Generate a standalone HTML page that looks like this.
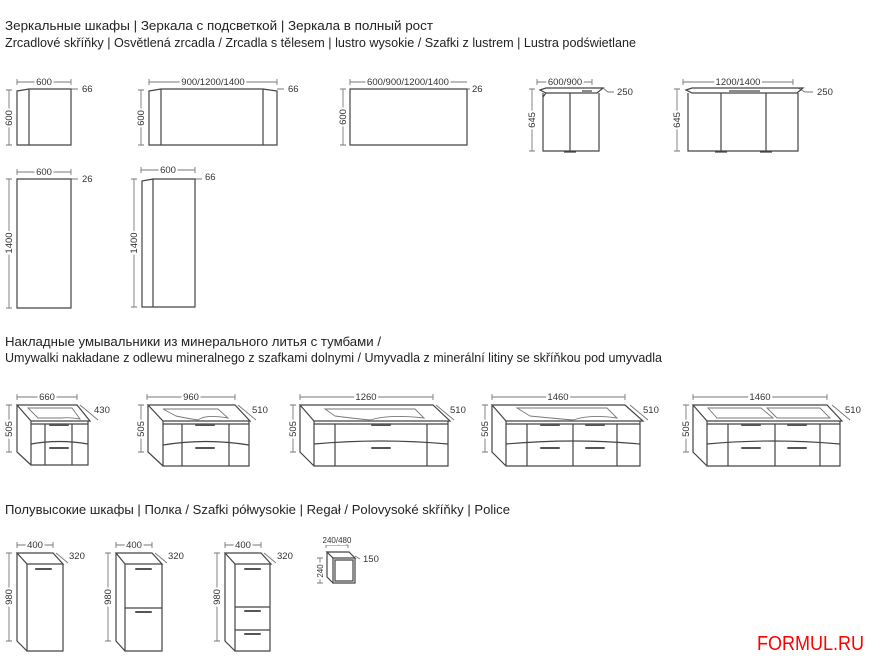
<!DOCTYPE html>
<html><head><meta charset="utf-8"><style>
html,body{margin:0;padding:0;background:#fff;}
svg{display:block;}
.h{font-family:"Liberation Sans","DejaVu Sans",sans-serif;font-size:12.5px;fill:#222;}
.d{font-family:"Liberation Sans",sans-serif;font-size:9.5px;fill:#333;stroke:#fff;stroke-width:4;paint-order:stroke;}
.l{stroke:#444;stroke-width:1.2;fill:none;}
.t{stroke:#777;stroke-width:0.9;fill:none;}
.k{stroke:#555;stroke-width:2;fill:none;stroke-linecap:round;}
</style></head><body>
<svg width="887" height="671" viewBox="0 0 887 671" xmlns="http://www.w3.org/2000/svg">
<text class="h" x="5" y="30" textLength="428" lengthAdjust="spacingAndGlyphs">Зеркальные шкафы | Зеркала с подсветкой | Зеркала в полный рост</text>
<text class="h" x="5" y="47" textLength="631" lengthAdjust="spacingAndGlyphs">Zrcadlové skříňky | Osvětlená zrcadla / Zrcadla s tělesem | lustro wysokie / Szafki z lustrem | Lustra podświetlane</text>
<text class="h" x="5" y="346" textLength="376" lengthAdjust="spacingAndGlyphs">Накладные умывальники из минерального литья с тумбами /</text>
<text class="h" x="5" y="362" textLength="657" lengthAdjust="spacingAndGlyphs">Umywalki nakładane z odlewu mineralnego z szafkami dolnymi / Umyvadla z minerální litiny se skříňkou pod umyvadla</text>
<text class="h" x="5" y="514" textLength="505" lengthAdjust="spacingAndGlyphs">Полувысокие шкафы | Полка / Szafki półwysokie | Regał / Polovysoké skříňky | Police</text>
<text x="757" y="650" textLength="107" lengthAdjust="spacingAndGlyphs" style="font-family:'Liberation Sans',sans-serif;font-size:20px;fill:#f00;">FORMUL.RU</text>

<g class="t">
<path d="M17 82H71M17 79V85M71 79V85"/>
<path d="M149 82H277M149 79V85M277 79V85"/>
<path d="M350 82H467M350 79V85"/>
<path d="M537 82H592M537 79V85M592 79V85"/>
<path d="M683 82H793M683 79V85M793 79V85"/>
<path d="M17 172H71M17 169V175M71 169V175"/>
<path d="M141 170H195M141 167V173M195 167V173"/>
<path d="M9 90V145M6 90H12M6 145H12"/>
<path d="M141 90V145M138 90H144M138 145H144"/>
<path d="M343 89V145M340 89H346M340 145H346"/>
<path d="M532 89V151M529 89H535M529 151H535"/>
<path d="M677 89V151M674 89H680M674 151H680"/>
<path d="M9 179V308M6 179H12M6 308H12"/>
<path d="M134 179V307M131 179H137M131 307H137"/>
<path d="M71 89H78M277 89H284M467 89H470M603 88L608 92H614M798 88L805 92H813M71 179H78M195 179H202"/>
<path d="M17 397H77M17 394V400M77 394V400M9 405V452M6 405H12M6 452H12M80 405L98 420"/>
<path d="M147 397H235M147 394V400M235 394V400M141 405V452M138 405H144M138 452H144M238 405L256 420"/>
<path d="M300 397H433M300 394V400M433 394V400M293 405V452M290 405H296M290 452H296M436 405L454 420"/>
<path d="M492 397H625M492 394V400M625 394V400M485 405V452M482 405H488M482 452H488M630 405L648 420"/>
<path d="M693 397H827M693 394V400M827 394V400M686 405V452M683 405H689M683 452H689M832 405L850 420"/>
<path d="M17 545H53M17 542V548M53 542V548M9 553V641M6 553H12M6 641H12M56 553L68 563"/>
<path d="M116 545H152M116 542V548M152 542V548M108 553V641M105 553H111M105 641H111M155 553L167 563"/>
<path d="M225 545H261M225 542V548M261 542V548M217 553V641M214 553H220M214 641H220M264 553L276 563"/>
<path d="M326 545H348M326 542V548M348 542V548M320 558V583M317 558H323M317 583H323M355 556L360 559"/>
</g>
<g class="d">
<text x="44" y="85" text-anchor="middle">600</text>
<text x="213" y="85" text-anchor="middle">900/1200/1400</text>
<text x="408" y="85" text-anchor="middle">600/900/1200/1400</text>
<text x="565" y="85" text-anchor="middle">600/900</text>
<text x="738" y="85" text-anchor="middle">1200/1400</text>
<text x="44" y="175" text-anchor="middle">600</text>
<text x="168" y="173" text-anchor="middle">600</text>
<text x="82" y="92">66</text><text x="288" y="92">66</text><text x="472" y="92">26</text>
<text x="617" y="95">250</text><text x="817" y="95">250</text>
<text x="82" y="182">26</text><text x="205" y="180">66</text>
<text transform="translate(12,118) rotate(-90)" text-anchor="middle">600</text>
<text transform="translate(144,118) rotate(-90)" text-anchor="middle">600</text>
<text transform="translate(346,117) rotate(-90)" text-anchor="middle">600</text>
<text transform="translate(535,120) rotate(-90)" text-anchor="middle">645</text>
<text transform="translate(680,120) rotate(-90)" text-anchor="middle">645</text>
<text transform="translate(12,243) rotate(-90)" text-anchor="middle">1400</text>
<text transform="translate(137,243) rotate(-90)" text-anchor="middle">1400</text>
<text x="47" y="400" text-anchor="middle">660</text>
<text x="191" y="400" text-anchor="middle">960</text>
<text x="366" y="400" text-anchor="middle">1260</text>
<text x="558" y="400" text-anchor="middle">1460</text>
<text x="760" y="400" text-anchor="middle">1460</text>
<text x="94" y="413">430</text><text x="252" y="413">510</text><text x="450" y="413">510</text><text x="643" y="413">510</text><text x="845" y="413">510</text>
<text transform="translate(12,429) rotate(-90)" text-anchor="middle">505</text>
<text transform="translate(144,429) rotate(-90)" text-anchor="middle">505</text>
<text transform="translate(296,429) rotate(-90)" text-anchor="middle">505</text>
<text transform="translate(488,429) rotate(-90)" text-anchor="middle">505</text>
<text transform="translate(689,429) rotate(-90)" text-anchor="middle">505</text>
<text x="35" y="548" text-anchor="middle">400</text>
<text x="134" y="548" text-anchor="middle">400</text>
<text x="243" y="548" text-anchor="middle">400</text>
<text x="337" y="543" text-anchor="middle" style="font-size:8px">240/480</text>
<text x="69" y="559">320</text><text x="168" y="559">320</text><text x="277" y="559">320</text><text x="363" y="562">150</text>
<text transform="translate(12,597) rotate(-90)" text-anchor="middle">980</text>
<text transform="translate(111,597) rotate(-90)" text-anchor="middle">980</text>
<text transform="translate(220,597) rotate(-90)" text-anchor="middle">980</text>
<text transform="translate(323,571) rotate(-90)" text-anchor="middle" style="font-size:8px">240</text>
</g>

<g class="l">
<path d="M17 91L29 89H71V145H17ZM29 89V145"/>
<path d="M149 91L161 89H263L277 91V145H149ZM161 89V145M263 89V145"/>
<path d="M350 89H467V145H350Z"/>
<path d="M540 90L546 88H603L597 93H546ZM543 93V151H599V93M570 93V151M546 93L543 97"/>
<path d="M564 152H576M582 91H592"/>
<path d="M686 90L692 88H803L797 93H692ZM688 93V151H798V93M721 93V151M766 93V151"/>
<path d="M715 152H727M760 152H772M729 91H760"/>
<path d="M17 179H71V308H17Z"/>
<path d="M142 181L153 179H195V307H142ZM153 179V307"/>
</g>

<g class="l">
<path d="M17 405H77L90 421H31Z M31 421V424H88V421 M31 424V465H88V424 M17 405V452L31 465 M45 424V465M72 424V465"/>
<path d="M31 444Q59 439 88 444" />
<path d="M28 408H72L80 419Q68 417 62 418H38Z" class="t"/>
<path d="M148 405H235L250 421H163Z M163 421V424H249V421 M163 424V466H249V424 M148 405V452L163 466 M182 424V466M229 424V466"/>
<path d="M163 445Q206 438 249 445"/>
<path d="M163 409H218L228 418Q205 414 198 420Q185 418 176 416Z" class="t"/>
<path d="M300 405H433L450 421H314Z M314 421V424H448V421 M314 424V466H448V424 M300 405V452L314 466 M335 424V466M427 424V466"/>
<path d="M314 444Q381 438 448 444"/>
<path d="M325 409H415L424 418Q390 414 370 420Q350 418 335 416Z" class="t"/>
<path d="M492 405H625L643 421H506Z M506 421V424H640V421 M506 424V466H640V424 M492 405V452L506 466 M527 424V466M573 424V466M617 424V466"/>
<path d="M506 444Q573 438 640 444"/>
<path d="M517 408H607L617 418Q590 414 573 420Q550 418 530 416Z" class="t"/>
<path d="M693 405H827L842 421H707Z M707 421V424H840V421 M707 424V466H840V424 M693 405V452L707 466 M728 424V466M775 424V466M820 424V466"/>
<path d="M707 444Q773 438 840 444"/>
<path d="M708 408H761L773 418H717Z M767 408H820L830 418H777Z" class="t"/>
<path d="M17 553H53L63 564H27Z M27 564V651H63V564 M17 553V641L27 651"/>
<path d="M116 553H152L162 564H125Z M125 564V651H162V564 M116 553V641L125 651 M125 608H162"/>
<path d="M225 553H261L271 564H235Z M235 564V651H270V564 M225 553V641L235 651 M235 607H270M235 630H270"/>
<path d="M327 552H349L355 558H333Z M333 558V583H355V558 M327 552V577L333 583 M335 560H353V581H335Z"/>
</g>
<g class="k">
<path d="M50 425H68M50 448H68"/>
<path d="M196 425H214M196 448H214"/>
<path d="M372 425H390M372 448H390"/>
<path d="M541 425H559M586 425H604M541 448H559M586 448H604"/>
<path d="M742 425H760M788 425H806M742 448H760M788 448H806"/>
<path d="M36 569H51"/>
<path d="M136 569H151M136 612H151"/>
<path d="M245 569H260M245 611H260M245 634H260"/>
</g>
</svg>
</body></html>
